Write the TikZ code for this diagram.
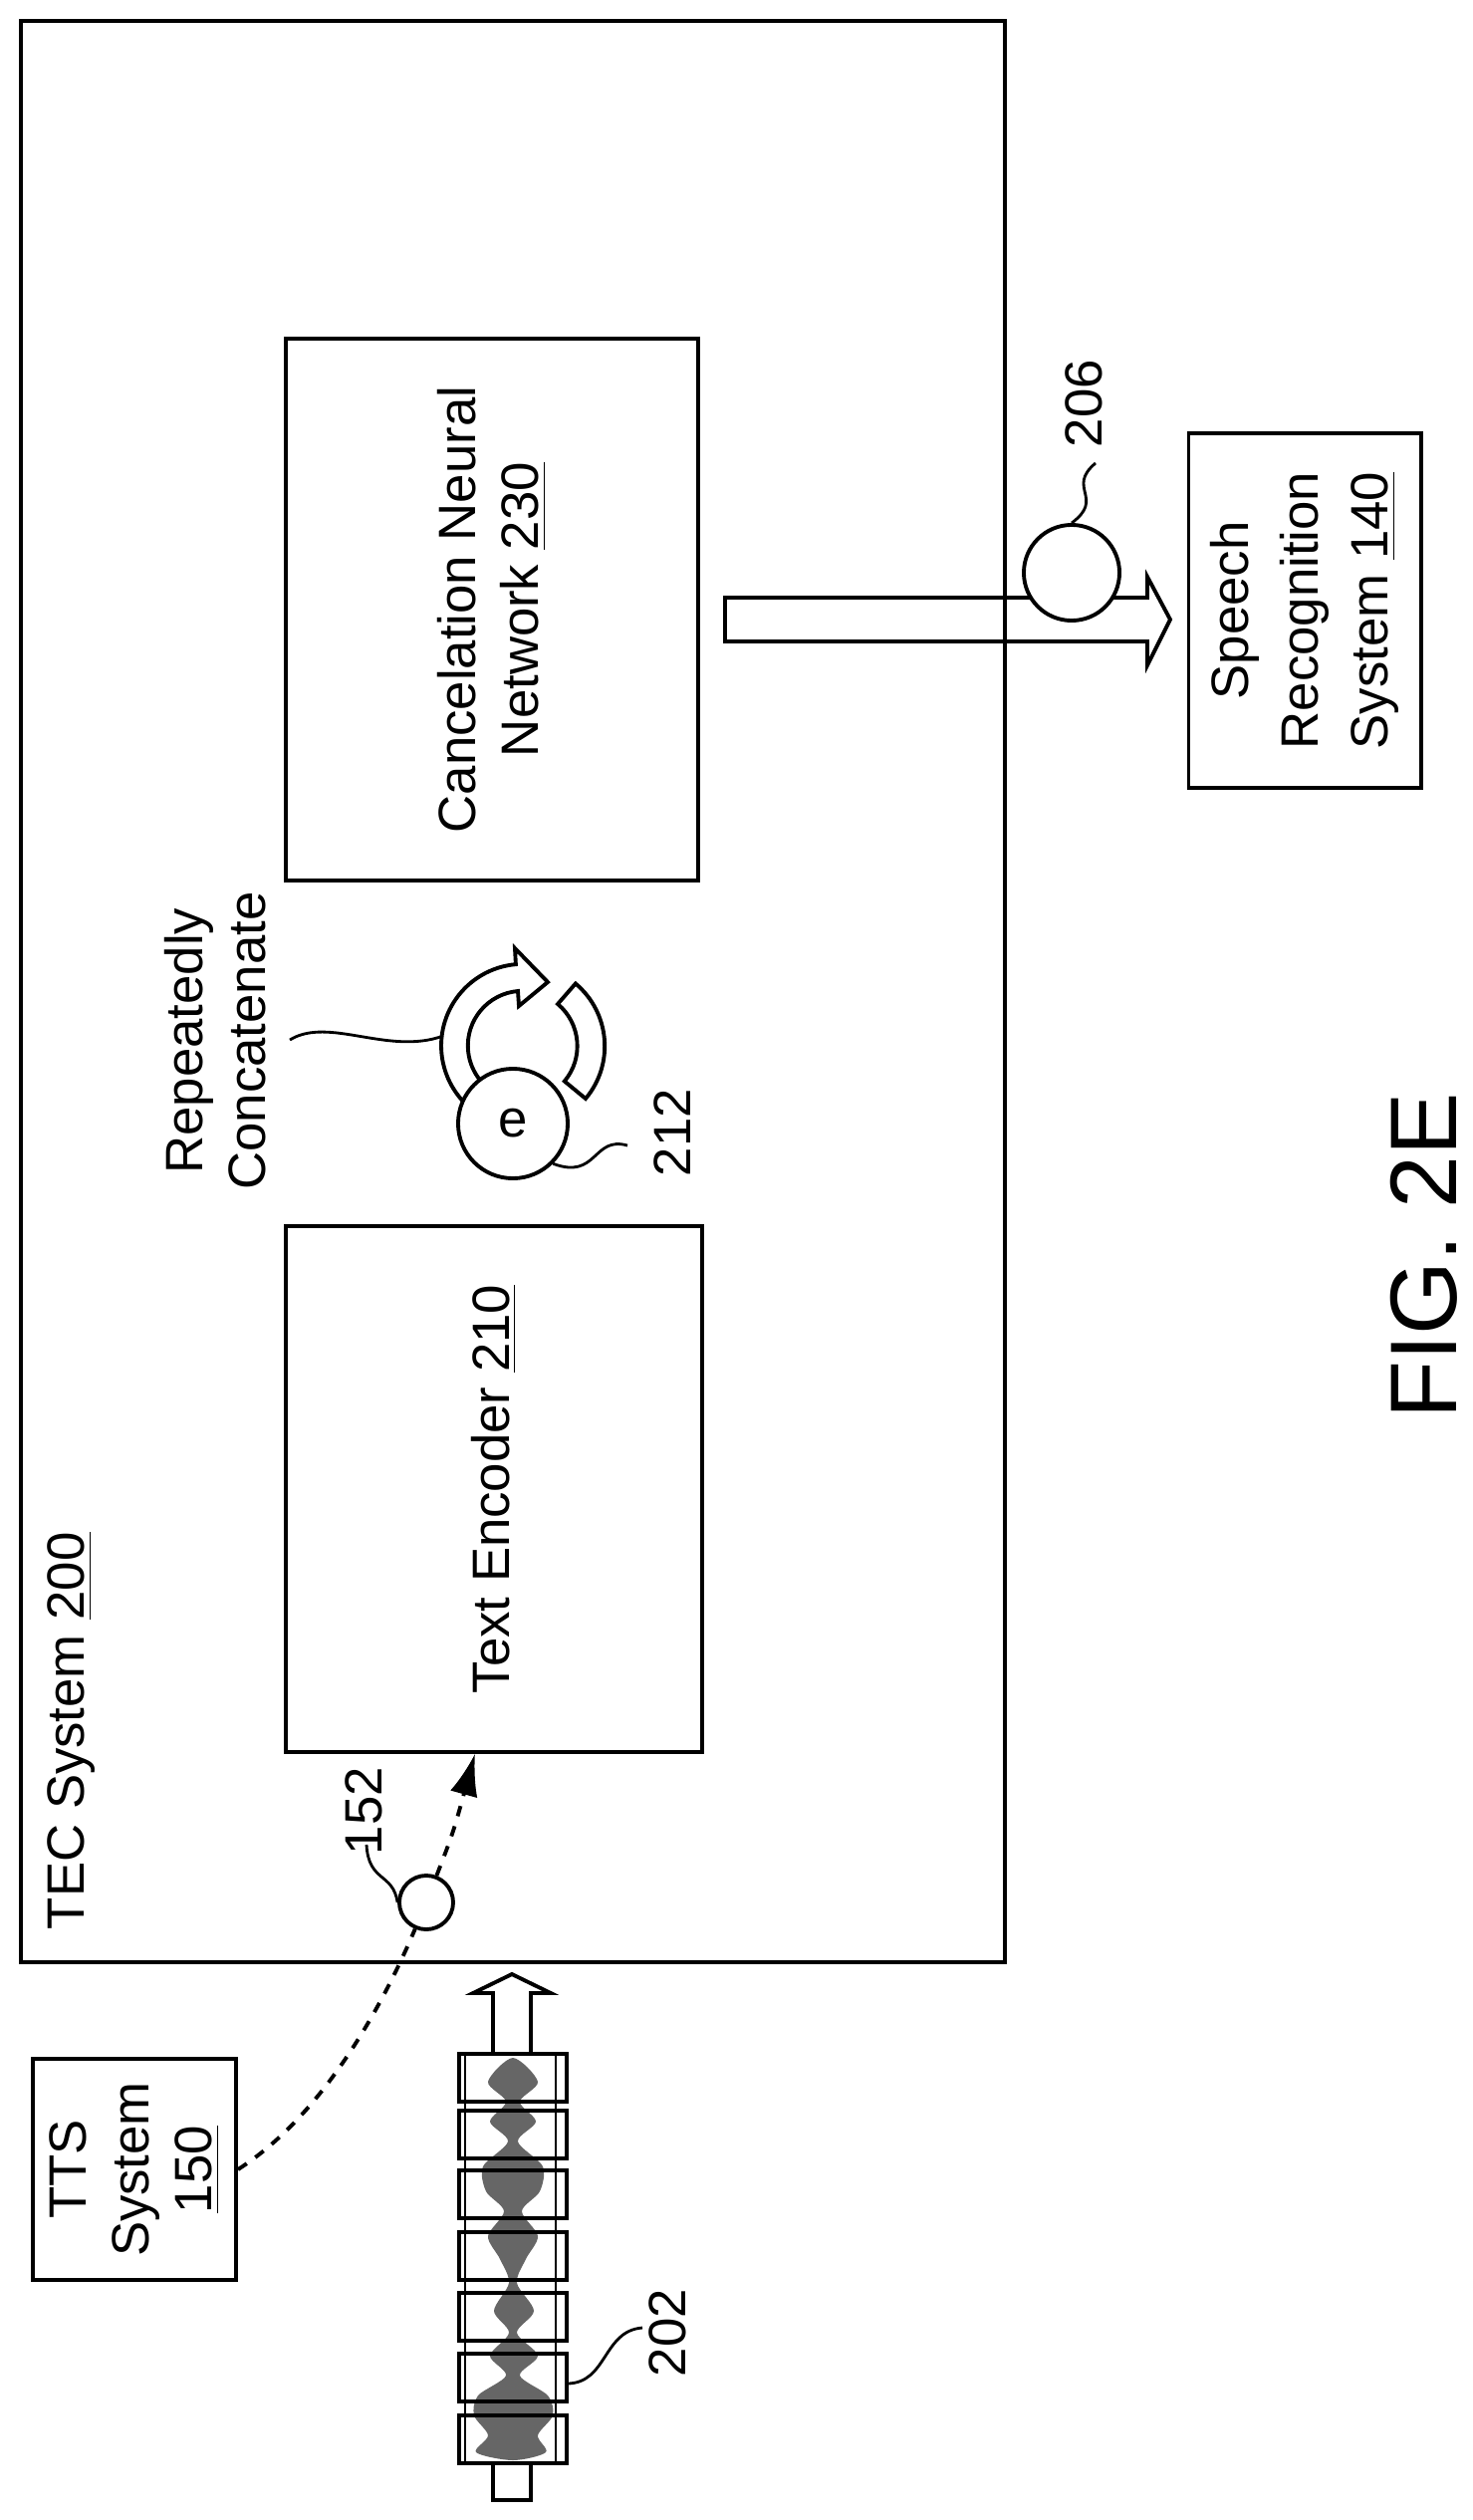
\documentclass[tikz,border=0pt]{standalone}
\usepackage{fontspec}
\setmainfont{Liberation Sans}
\usetikzlibrary{positioning,calc,arrows.meta}

\begin{document}
\begin{tikzpicture}[x=0.01cm,y=-0.01cm,
    line width=1.1pt,
    font=\fontsize{15}{18}\selectfont]

        % Setup the styles
        \tikzset{box/.style={draw, rotate=90, align=center, inner sep=0pt},
                 ring/.style={draw, circle, inner sep=0pt},
                 lbl/.style={rotate=90, inner sep=0pt},
                 lead/.style={line width=0.8pt}}

        \useasboundingbox (0,0) rectangle (1478,2530);

        % TEC system frame
        \draw (21,21) rectangle (1009,1970);
        \node[lbl, anchor=west] (tec) at (72,1939) {TEC System \underline{200}};

        % Draw the blocks
        \node[box, minimum width=5.43cm, minimum height=4.13cm] (cnn) at (494,612)
             {Cancelation Neural\\Network \underline{230}};
        \node[box, minimum width=5.27cm, minimum height=4.17cm] (tenc) at (496,1495)
             {Text Encoder \underline{210}};
        \node[box, minimum width=3.56cm, minimum height=2.33cm] (srs) at (1310,613)
             {Speech\\[2pt]Recognition\\[2pt]System \underline{140}};
        \node[box, minimum width=2.22cm, minimum height=2.04cm] (tts) at (135,2178)
             {TTS\\System\\\underline{150}};

        % Output arrow and 206
        \draw (728,600) -- (1152,600) -- (1152,579) -- (1175,622) -- (1152,668)
              -- (1152,644) -- (728,644) -- cycle;
        \node[ring, fill=white, minimum size=0.96cm] (c206) at (1076,575) {};
        \node[lbl] (l206) at (1088,405) {206};
        \draw[lead] (c206.north) .. controls (1110,500) and (1070,490) .. (1100,465);

        % Repeat loop around e
        \draw (478,1117) arc (125:265:82) -- (517,952) -- (550,986) -- (521,1010)
              -- (520,995) arc (265:125:55) -- cycle;
        \draw (588,1103) arc (40:-50:82) -- (560,1008) arc (-50:40:55) -- cycle;
        \node[ring, fill=white, minimum size=1.1cm] (e212) at (515,1128) {e};
        \node[lbl, align=center] (rc) at (216,1045) {Repeatedly\\Concatenate};
        \draw[lead] (291,1044) .. controls (330,1020) and (390,1060) .. (445,1040);
        \node[lbl] (l212) at (675,1137) {212};
        \draw[lead] (e212.south east) .. controls (600,1185) and (595,1140) .. (630,1150);

        % Text input 152
        \node[ring, minimum size=0.54cm] (c152) at (428,1910) {};
        \node[lbl] (l152) at (365,1818) {152};
        \draw[lead] (368,1852) .. controls (370,1890) and (395,1880) .. (c152.west);
        \draw[dashed] (tts.south) .. controls (330,2120) and (390,2000) .. (c152);
        \draw[dashed, -{Latex[length=12pt,width=8pt]}] (c152)
              .. controls (455,1840) .. ($(tenc.west)+(-19,0)$);

        % Audio frames 202
        \draw (495,2062) -- (495,2001) -- (475,2001) -- (514,1982) -- (553,2001)
              -- (533,2001) -- (533,2062);
        \draw (495,2473) rectangle (533,2510);
        \fill[black!60] plot[smooth cycle] coordinates {
              (515,2066) (540,2090) (522,2110) (538,2130) (520,2150) (545,2175)
              (542,2200) (524,2220) (540,2245) (528,2268) (519,2292) (536,2320)
              (519,2342) (540,2365) (522,2385) (550,2405) (555,2425) (540,2445)
              (548,2462) (515,2470) (478,2462) (490,2445) (476,2425) (480,2405)
              (508,2385) (492,2365) (511,2342) (496,2320) (511,2292) (502,2268)
              (490,2245) (506,2220) (488,2200) (485,2175) (510,2150) (492,2130)
              (508,2110) (490,2090)};
        \draw[line width=0.6pt] (467,2062) rectangle (558,2473);
        \foreach \y in {2062,2119,2179,2241,2302,2363,2425}
           \draw (461,\y) rectangle (569,\y+48);
        \node[lbl] (l202) at (670,2342) {202};
        \draw[lead] (569,2393) .. controls (610,2393) and (605,2340) .. (645,2337);

        % Figure title
        \node[lbl, font=\fontsize{27}{32}\selectfont] (fig) at (1430,1261) {FIG. 2E};

\end{tikzpicture}
\end{document}
